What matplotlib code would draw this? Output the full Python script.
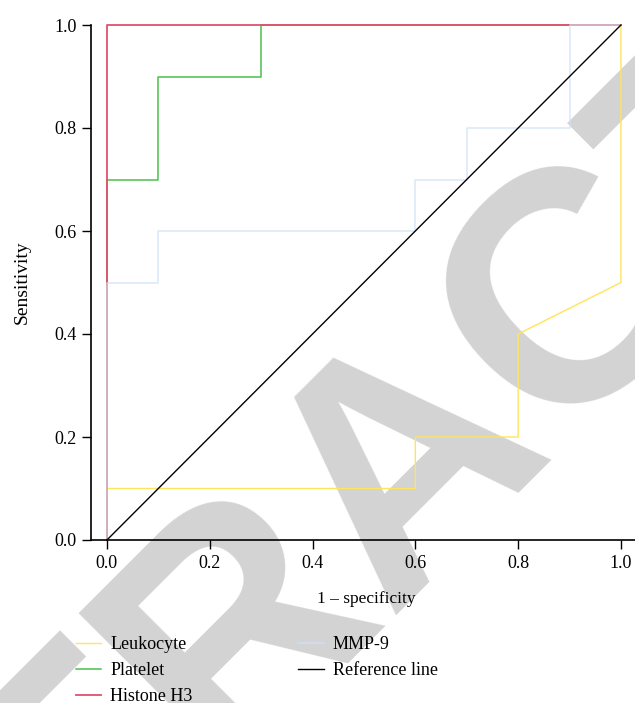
import matplotlib.pyplot as plt

# ROC curves (1 - specificity, sensitivity)
leuko_x = [0.0, 0.0, 0.6, 0.6, 0.8, 0.8, 1.0, 1.0]
leuko_y = [0.0, 0.1, 0.1, 0.2, 0.2, 0.4, 0.5, 1.0]

plt_x = [0.0, 0.0, 0.1, 0.1, 0.3, 0.3, 1.0]
plt_y = [0.0, 0.7, 0.7, 0.9, 0.9, 1.0, 1.0]

h3_x = [0.0, 0.0, 1.0]
h3_y = [0.0, 1.0, 1.0]

mmp_x = [0.0, 0.0, 0.1, 0.1, 0.6, 0.6, 0.7, 0.7, 0.9, 0.9, 1.0]
mmp_y = [0.0, 0.5, 0.5, 0.6, 0.6, 0.7, 0.7, 0.8, 0.8, 1.0, 1.0]

ref_x = [0.0, 1.0]
ref_y = [0.0, 1.0]

ticks = [0.0, 0.2, 0.4, 0.6, 0.8, 1.0]
tick_labels = ['0.0', '0.2', '0.4', '0.6', '0.8', '1.0']

plt.rcParams['font.family'] = ['Liberation Serif', 'DejaVu Serif']
plt.rcParams['font.size'] = 13

fig = plt.figure(figsize=(6.35, 7.03), dpi=100)
ax = fig.add_axes([91 / 635, 163 / 703, 550.5 / 635, 515 / 703])
ax.set_facecolor('none')

# watermark behind the plot
fig.text(0.738, 0.2575, 'RETRACTED', fontsize=236, fontweight='bold',
         family='Liberation Sans', color='#d3d3d3', rotation=45,
         rotation_mode='anchor', ha='center', va='baseline', zorder=-1)

ax.plot(leuko_x, leuko_y, color='#ffe45c', lw=1.0, label='Leukocyte', clip_on=False)
ax.plot(plt_x, plt_y, color='#4cbf4c', lw=1.1, label='Platelet', clip_on=False)
ax.plot(h3_x, h3_y, color='#e0506c', lw=1.3, label='Histone H3', clip_on=False)
ax.plot(mmp_x, mmp_y, color='#cfe4f6', lw=1.1, alpha=0.8, label='MMP-9', clip_on=False)
ax.plot(ref_x, ref_y, color='black', lw=1.0, label='Reference line', clip_on=False)

ax.set_xlim(-0.031, 1.04)
ax.set_ylim(0, 1)
ax.set_xticks(ticks)
ax.set_xticklabels(tick_labels)
ax.set_yticks(ticks)
ax.set_yticklabels(tick_labels)
ax.spines['top'].set_visible(False)
ax.spines['right'].set_visible(False)
for s in ['left', 'bottom']:
    ax.spines[s].set_linewidth(1.2)
ax.tick_params(length=6.5, width=1.0, pad=4)

ax.set_xlabel('1 – specificity', labelpad=14, fontsize=12.5)
ax.set_ylabel('Sensitivity', labelpad=17, fontsize=14)

fig.legend(loc='upper left', bbox_to_anchor=(76 / 635, 1 - 636 / 703), ncol=2,
           frameon=False, borderpad=0, borderaxespad=0, handlelength=1.4,
           handletextpad=0.5, labelspacing=0.5, columnspacing=5.85)

fig.savefig('out.png', dpi=100)
